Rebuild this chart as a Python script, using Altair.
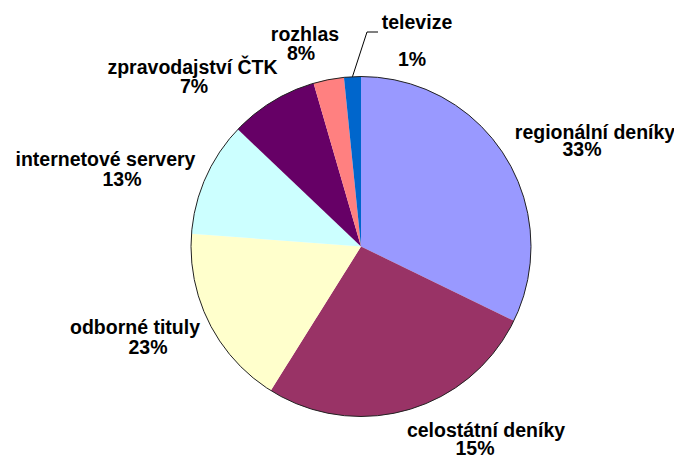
import math
import altair as alt
import pandas as pd

# ---- data ----
categories = ["regionální deníky", "celostátní deníky", "odborné tituly",
              "internetové servery", "zpravodajství ČTK", "rozhlas", "televize"]
values = [32.2, 26.7, 17.3, 10.9, 8.4, 2.9, 1.6]          # slice sizes as drawn
pct_labels = ["33%", "15%", "23%", "13%", "7%", "8%", "1%"]  # label texts as printed

# ---- style / layout ----
colors = ["#9999FF", "#993366", "#FFFFCC", "#CCFFFF", "#660066", "#FF8080", "#0066CC"]
W, H = 666, 450
CX, CY, R = 353, 238.5, 170
# label anchors (center x, baseline y) in chart pixels
name_x = [587, 478, 127, 97.5, 184.5, 297, 409]
name_y = [131, 429, 326, 158, 66, 33, 21]
pct_x = [574, 467, 140, 114, 186, 293, 404]
pct_y = [148, 447, 346, 178, 85, 52, 58]
FONT = "Liberation Sans"
FS = 19.5

df = pd.DataFrame({
    "category": categories,
    "value": values,
    "order": list(range(len(values))),
})
lab = pd.DataFrame({
    "name": categories, "pct": pct_labels,
    "nx": name_x, "ny": name_y, "px": pct_x, "py": pct_y,
})

# leader line for the smallest slice (televize): start at its mid-angle on the rim
total = sum(values)
cum = sum(values[:-1])
mid = (cum + values[-1] / 2) / total * 2 * math.pi
sx = CX + R * math.sin(mid)
sy = CY - R * math.cos(mid)
leader = pd.DataFrame({"x": [sx, 359, 370], "y": [sy, 24, 24], "o": [0, 1, 2]})

pie = alt.Chart(df).mark_arc(radius=R).encode(
    theta=alt.Theta("value:Q", stack=True),
    order=alt.Order("order:Q"),
    color=alt.Color("category:N", scale=alt.Scale(domain=categories, range=colors), legend=None),
    x=alt.value(CX), y=alt.value(CY),
)

outline = alt.Chart(pd.DataFrame({"v": [1]})).mark_arc(
    radius=R, theta=0, theta2=2 * math.pi, fillOpacity=0, stroke="#222222", strokeWidth=1
).encode(x=alt.value(CX), y=alt.value(CY))

names = alt.Chart(lab).mark_text(
    font=FONT, fontSize=FS, fontWeight="bold", color="black", align="center", baseline="alphabetic"
).encode(
    x=alt.X("nx:Q", scale=None, axis=None), y=alt.Y("ny:Q", scale=None, axis=None), text="name:N"
)
pcts = alt.Chart(lab).mark_text(
    font=FONT, fontSize=FS, fontWeight="bold", color="black", align="center", baseline="alphabetic"
).encode(
    x=alt.X("px:Q", scale=None, axis=None), y=alt.Y("py:Q", scale=None, axis=None), text="pct:N"
)

lead = alt.Chart(leader).mark_line(color="black", strokeWidth=1).encode(
    x=alt.X("x:Q", scale=None, axis=None), y=alt.Y("y:Q", scale=None, axis=None), order="o:Q"
)

chart = alt.layer(pie, outline, lead, names, pcts).properties(
    width=W, height=H, autosize=alt.AutoSizeParams(type="none"), padding=0
).configure_view(stroke=None)

chart.save("out.html", embed_options={"renderer": "svg", "actions": False})
